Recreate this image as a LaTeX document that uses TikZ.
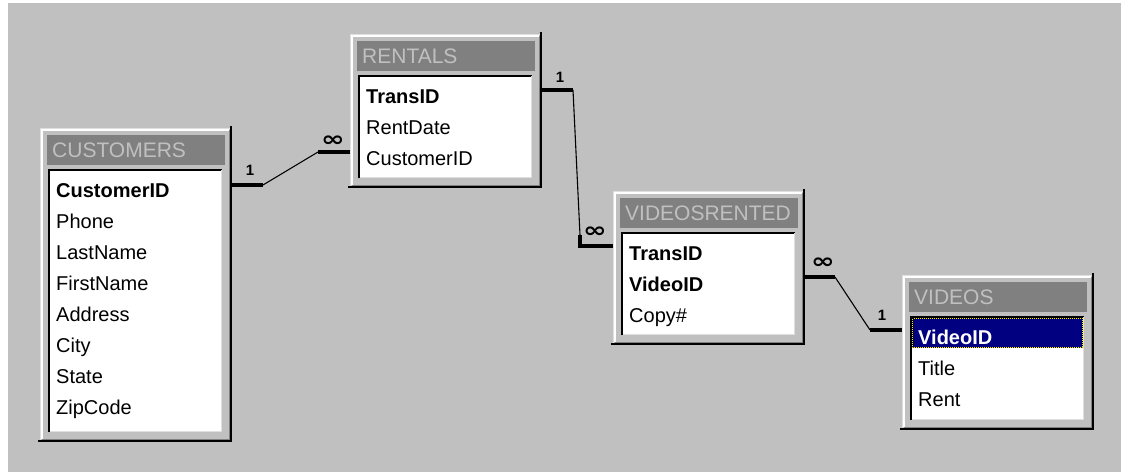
\documentclass[tikz,border=0pt]{standalone}
\usepackage{fontspec}
\setmainfont{Liberation Sans}
\newfontfamily\symfont{DejaVu Sans}
\usetikzlibrary{calc}

\definecolor{face}{HTML}{C0C0C0}
\definecolor{darkface}{HTML}{808080}
\definecolor{hilite}{HTML}{DFDFDF}
\definecolor{selbg}{HTML}{000080}

\tikzset{
  winbody/.style={fill=face, inner sep=0pt, outer sep=0pt, minimum width=192pt},
  titletext/.style={text=face, inner sep=0pt, font=\fontsize{21}{24}\selectfont},
  field/.style={inner sep=0pt, font=\fontsize{20}{24}\selectfont},
  thickend/.style={line width=4pt},
  thinlink/.style={line width=1.1pt},
  onelabel/.style={inner sep=0pt, font=\bfseries\fontsize{15}{15}\selectfont},
  manylabel/.style={inner sep=0pt, font=\symfont\bfseries\fontsize{21}{21}\selectfont, xscale=1.35},
}

% A table window: name, left, top, height, caption
\newcommand\tablewin[5]{%
  \node[winbody, minimum height=#4pt, anchor=north west] (#1) at (#2,#3) {};
  \draw[hilite, line width=1pt] ($(#1.south west)+(0.5,-2)$) -- ($(#1.north west)+(0.5,0.5)$) -- ($(#1.north east)+(-2,0.5)$);
  \draw[white, line width=1.5pt] ($(#1.south west)+(2,-3)$) -- ($(#1.north west)+(2,2)$) -- ($(#1.north east)+(-3,2)$);
  \draw[darkface, line width=1.5pt] ($(#1.south west)+(2,-2.75)$) -- ($(#1.south east)+(-2.75,-2.75)$) -- ($(#1.north east)+(-2.75,2)$);
  \draw[black, line width=2pt] ($(#1.south west)+(-2,-1)$) -- ($(#1.south east)+(-1,-1)$) -- ($(#1.north east)+(-1,-2)$);
  \fill[darkface] ($(#1.north west)+(7,7)$) rectangle ($(#1.north east)+(-7,37)$);
  \node[titletext, anchor=base west] (#1-title) at ($(#1.north west)+(12,29)$) {#5};
  \fill[white] ($(#1.north west)+(8,41)$) rectangle ($(#1.south east)+(-10,-10)$);
  \draw[black, line width=2pt] ($(#1.south west)+(9,-10)$) -- ($(#1.north west)+(9,42)$) -- ($(#1.north east)+(-10,42)$);
  \draw[hilite, line width=1.5pt] ($(#1.north east)+(-10.75,42)$) -- ($(#1.south east)+(-10.75,-10.75)$) -- ($(#1.south west)+(10,-10.75)$);
}

% The field list of a table window, one row every 31 units
\newcommand\fields[2]{%
  \foreach \t [count=\i] in {#2}
    \node[field, anchor=base west] (#1-\i) at ($(#1.north west)+(16,38+31*\i)$) {\t};
}

\begin{document}
\begin{tikzpicture}[x=1pt, y=-1pt]
  \useasboundingbox (0,0) rectangle (1121,472);
  \fill[white] (0,0) rectangle (1121,472);
  \fill[face] (8,3) rectangle (1121,472);

  % tables
  \tablewin{cust}{40}{128}{314}{CUSTOMERS}
  \fields{cust}{\textbf{CustomerID},Phone,LastName,FirstName,Address,City,State,ZipCode}

  \tablewin{rent}{350}{34}{154}{RENTALS}
  \fields{rent}{\textbf{TransID},RentDate,CustomerID}

  \tablewin{vr}{613}{191}{154}{VIDEOSRENTED}
  \fields{vr}{\textbf{TransID},\textbf{VideoID},Copy\#}

  \tablewin{vid}{902}{275}{155}{VIDEOS}
  % selected key field
  \fill[selbg] ($(vid.north west)+(10,43)$) rectangle ($(vid.north east)+(-11,73)$);
  \draw[black, line width=1pt] ($(vid.north west)+(10.5,43.5)$) rectangle ($(vid.north east)+(-11.5,72.5)$);
  \draw[yellow, line width=1pt, dash pattern=on 1pt off 1pt] ($(vid.north west)+(10.5,43.5)$) rectangle ($(vid.north east)+(-11.5,72.5)$);
  \fields{vid}{\textcolor{white}{\textbf{VideoID}},Title,Rent}

  % CUSTOMERS 1 -- many RENTALS
  \coordinate (c1a) at ($(cust.north east)+(0,57)$);
  \coordinate (c1b) at ($(c1a)+(31,0)$);
  \coordinate (c1d) at ($(rent.north west)+(0,118)$);
  \coordinate (c1c) at ($(c1d)+(-32,0)$);
  \draw[thickend] (c1a) -- (c1b);
  \draw[thinlink] (c1b) -- (c1c);
  \draw[thickend] (c1c) -- (c1d);
  \node[onelabel] (c1one) at ($(c1a)+(18,-15)$) {1};
  \node[manylabel] (c1many) at ($(c1d)+(-17,-11)$) {∞};

  % RENTALS 1 -- many VIDEOSRENTED
  \coordinate (c2a) at ($(rent.north east)+(0,56)$);
  \coordinate (c2b) at ($(c2a)+(31,0)$);
  \coordinate (c2e) at ($(vr.north west)+(0,55)$);
  \coordinate (c2d) at ($(c2e)+(-33,0)$);
  \coordinate (c2c) at ($(c2d)+(0,-11)$);
  \draw[thickend] (c2a) -- (c2b);
  \draw[thinlink] (c2b) -- (c2c);
  \draw[thickend] (c2c) -- (c2d) -- (c2e);
  \node[onelabel] (c2one) at ($(c2a)+(18,-13)$) {1};
  \node[manylabel] (c2many) at ($(c2d)+(15,-14)$) {∞};

  % VIDEOSRENTED many -- 1 VIDEOS
  \coordinate (c3a) at ($(vr.north east)+(0,86)$);
  \coordinate (c3b) at ($(c3a)+(30,0)$);
  \coordinate (c3d) at ($(vid.north west)+(0,55)$);
  \coordinate (c3c) at ($(c3d)+(-32,0)$);
  \draw[thickend] (c3a) -- (c3b);
  \draw[thinlink] (c3b) -- (c3c);
  \draw[thickend] (c3c) -- (c3d);
  \node[manylabel] (c3many) at ($(c3a)+(18,-14)$) {∞};
  \node[onelabel] (c3one) at ($(c3d)+(-20,-15)$) {1};
\end{tikzpicture}
\end{document}
